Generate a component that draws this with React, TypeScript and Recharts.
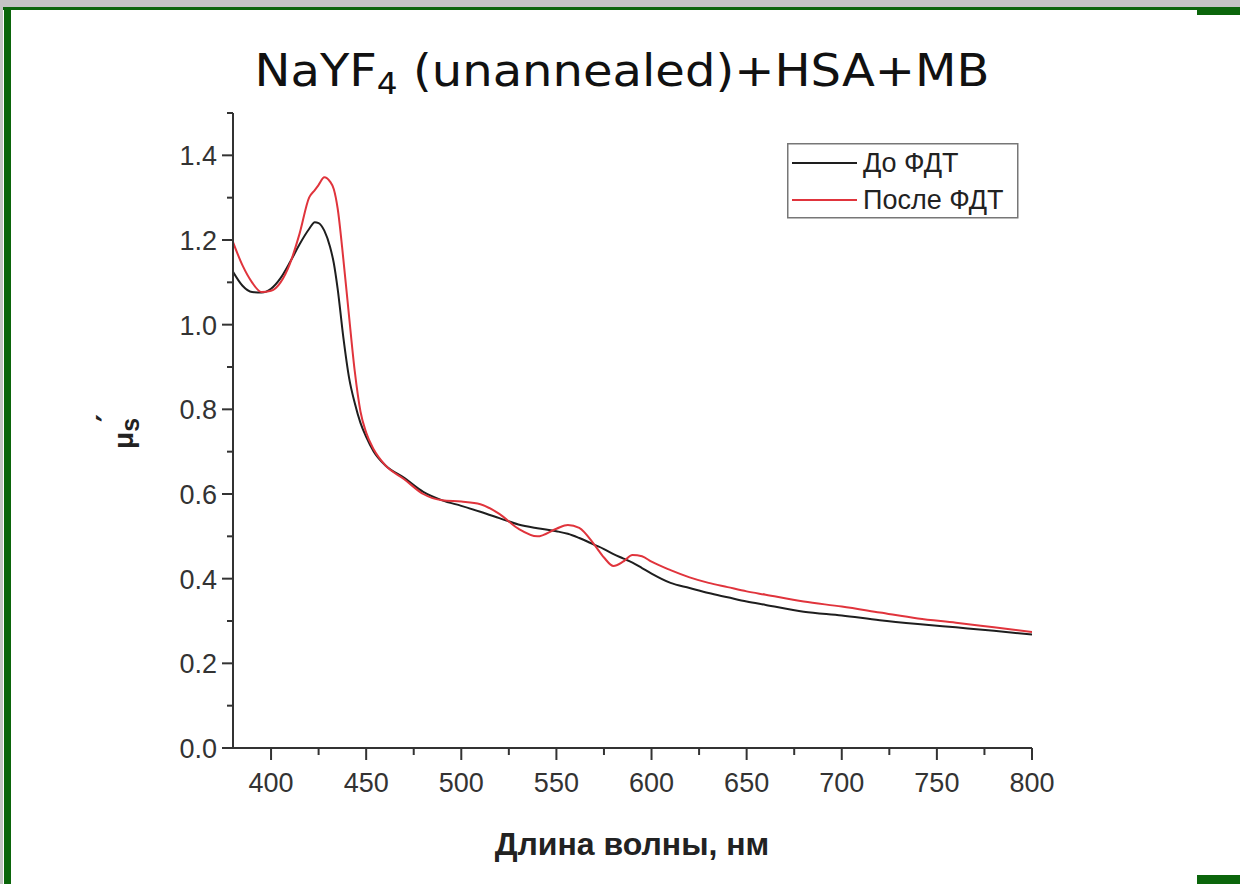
import React from 'react';
import { LineChart, Line, XAxis, YAxis, Legend } from 'recharts';

const wavelengths = [380, 385, 390, 395, 400, 405, 410, 415, 420, 423, 425, 428, 431, 433, 435, 438, 441, 444, 447, 450, 454, 460, 470, 480, 490, 500, 510, 520, 530, 540, 550, 556, 562, 570, 575, 580, 585, 590, 595, 600, 610, 620, 630, 640, 650, 660, 680, 700, 720, 740, 760, 780, 800];
const beforePdt = [1.125, 1.092, 1.077, 1.076, 1.085, 1.11, 1.148, 1.19, 1.226, 1.242, 1.24, 1.222, 1.184, 1.145, 1.085, 0.97, 0.875, 0.815, 0.768, 0.735, 0.7, 0.668, 0.638, 0.605, 0.585, 0.572, 0.558, 0.543, 0.528, 0.519, 0.512, 0.506, 0.496, 0.48, 0.47, 0.458, 0.448, 0.438, 0.425, 0.412, 0.39, 0.378, 0.366, 0.356, 0.346, 0.338, 0.322, 0.313, 0.302, 0.293, 0.285, 0.277, 0.268];
const afterPdt = [1.195, 1.14, 1.1, 1.077, 1.08, 1.1, 1.145, 1.215, 1.3, 1.318, 1.33, 1.348, 1.338, 1.32, 1.275, 1.155, 1.02, 0.89, 0.795, 0.745, 0.705, 0.668, 0.635, 0.6, 0.585, 0.582, 0.576, 0.553, 0.518, 0.5, 0.518, 0.527, 0.52, 0.48, 0.45, 0.43, 0.44, 0.456, 0.453, 0.44, 0.42, 0.403, 0.39, 0.38, 0.37, 0.362, 0.346, 0.334, 0.32, 0.306, 0.296, 0.285, 0.274];

const xTicks = [400, 425, 450, 475, 500, 525, 550, 575, 600, 625, 650, 675, 700, 725, 750, 775, 800];
const yTicks = [0, 0.1, 0.2, 0.3, 0.4, 0.5, 0.6, 0.7, 0.8, 0.9, 1.0, 1.1, 1.2, 1.3, 1.4, 1.5];

const seriesNames = ['До ФДТ', 'После ФДТ'];
const titleMain = 'NaYF';
const titleSub = '4';
const titleRest = ' (unannealed)+HSA+MB';
const xTitle = 'Длина волны, нм';

const data = wavelengths.map((w, i) => ({ w, before: beforePdt[i], after: afterPdt[i] }));

const AXIS = '#333';
const TICK_FONT = '"Liberation Sans", Arial, sans-serif';

const XTick = (props: any) => {
  const { x, y, payload } = props;
  const v = payload.value;
  const major = v % 50 === 0;
  return (
    <g>
      <line x1={x} x2={x} y1={y} y2={y + (major ? 12 : 7)} stroke={AXIS} strokeWidth={2} />
      {major && (
        <text x={x} y={y + 44} textAnchor="middle" fontFamily={TICK_FONT} fontSize={27} fill="#333">
          {v}
        </text>
      )}
    </g>
  );
};

const YTick = (props: any) => {
  const { x, y, payload } = props;
  const v = payload.value;
  const major = Math.round(v * 10) % 2 === 0;
  return (
    <g>
      <line x1={x} x2={x - (major ? 11 : 6)} y1={y} y2={y} stroke={AXIS} strokeWidth={2} />
      {major && (
        <text x={x - 16} y={y + 10} textAnchor="end" fontFamily={TICK_FONT} fontSize={27} fill="#333">
          {v.toFixed(1)}
        </text>
      )}
    </g>
  );
};

const LegendBox = (props: any) => {
  const payload = props.payload || [];
  return (
    <svg width={232} height={76} style={{ display: 'block' }}>
      <rect x={0.75} y={0.75} width={230} height={74} fill="#fff" stroke="#777" strokeWidth={1.5} />
      {payload.map((p: any, i: number) => (
        <g key={i}>
          <line x1={5} x2={70} y1={20 + i * 37} y2={20 + i * 37} stroke={p.color} strokeWidth={2} />
          <text x={76} y={29 + i * 37} fontFamily={TICK_FONT} fontSize={27} fill="#222">
            {p.value}
          </text>
        </g>
      ))}
    </svg>
  );
};

export default function App() {
  return (
    <div style={{ position: 'fixed', left: 0, top: 0, width: 1240, height: 884, background: '#fff', overflow: 'hidden' }}>
      <div style={{ position: 'absolute', left: 0, top: 0, width: 1240, height: 7, background: '#c4c4c4' }} />
      <div style={{ position: 'absolute', left: 0, top: 0, width: 3, height: 884, background: '#c4c4c4' }} />
      <div style={{ position: 'absolute', left: 3, top: 7, width: 1237, height: 3, background: '#0b650b' }} />
      <div style={{ position: 'absolute', left: 4, top: 7, width: 7, height: 877, background: '#0b650b' }} />
      <div style={{ position: 'absolute', left: 1197, top: 7, width: 43, height: 8, background: '#0b650b' }} />
      <div style={{ position: 'absolute', left: 1197, top: 875, width: 43, height: 9, background: '#0b650b' }} />

      <svg style={{ position: 'absolute', left: 0, top: 0 }} width={1240} height={884} pointerEvents="none">
        <text x={622} y={86} textAnchor="middle" fontFamily='"DejaVu Sans", Verdana, sans-serif' fontSize={44} fill="#111" textLength={735} lengthAdjust="spacingAndGlyphs">
          {titleMain}
          <tspan fontSize={30} dy={8}>{titleSub}</tspan>
          <tspan fontSize={44} dy={-8}>{titleRest}</tspan>
        </text>
        <text transform="translate(133,449) rotate(-90)" fontFamily={TICK_FONT} fontWeight="bold" fontSize={28} fill="#222">
          μ<tspan fontSize={25} dy={6}>s</tspan>
        </text>
        <text transform="translate(118,422) rotate(-90)" fontFamily='"DejaVu Sans", sans-serif' fontWeight="bold" fontSize={30} fill="#222">
          ′
        </text>
        <text x={632} y={855} textAnchor="middle" fontFamily={TICK_FONT} fontWeight="bold" fontSize={32} fill="#222">
          {xTitle}
        </text>
      </svg>

      <div style={{ position: 'absolute', left: 0, top: 0 }}>
        <LineChart width={1240} height={884} data={data} margin={{ top: 113, right: 208, bottom: 96, left: 0 }}>
          <XAxis
            dataKey="w"
            type="number"
            domain={[380, 800]}
            ticks={xTicks}
            interval={0}
            height={40}
            tickSize={0}
            tickMargin={0}
            tickLine={false}
            axisLine={{ stroke: AXIS, strokeWidth: 2 }}
            tick={<XTick />}
            allowDataOverflow
          />
          <YAxis
            type="number"
            domain={[0, 1.5]}
            ticks={yTicks}
            interval={0}
            width={233}
            tickSize={0}
            tickMargin={0}
            tickLine={false}
            axisLine={{ stroke: AXIS, strokeWidth: 2 }}
            tick={<YTick />}
            allowDataOverflow
          />
          <Legend
            layout="vertical"
            align="center"
            verticalAlign="middle"
            content={<LegendBox />}
            wrapperStyle={{ position: 'absolute', left: 787, top: 143, width: 232, height: 76 }}
          />
          <Line type="monotone" dataKey="before" name={seriesNames[0]} stroke="#1e1e1e" strokeWidth={2} dot={false} isAnimationActive={false} />
          <Line type="monotone" dataKey="after" name={seriesNames[1]} stroke="#e0343c" strokeWidth={2} dot={false} isAnimationActive={false} />
        </LineChart>
      </div>
    </div>
  );
}
